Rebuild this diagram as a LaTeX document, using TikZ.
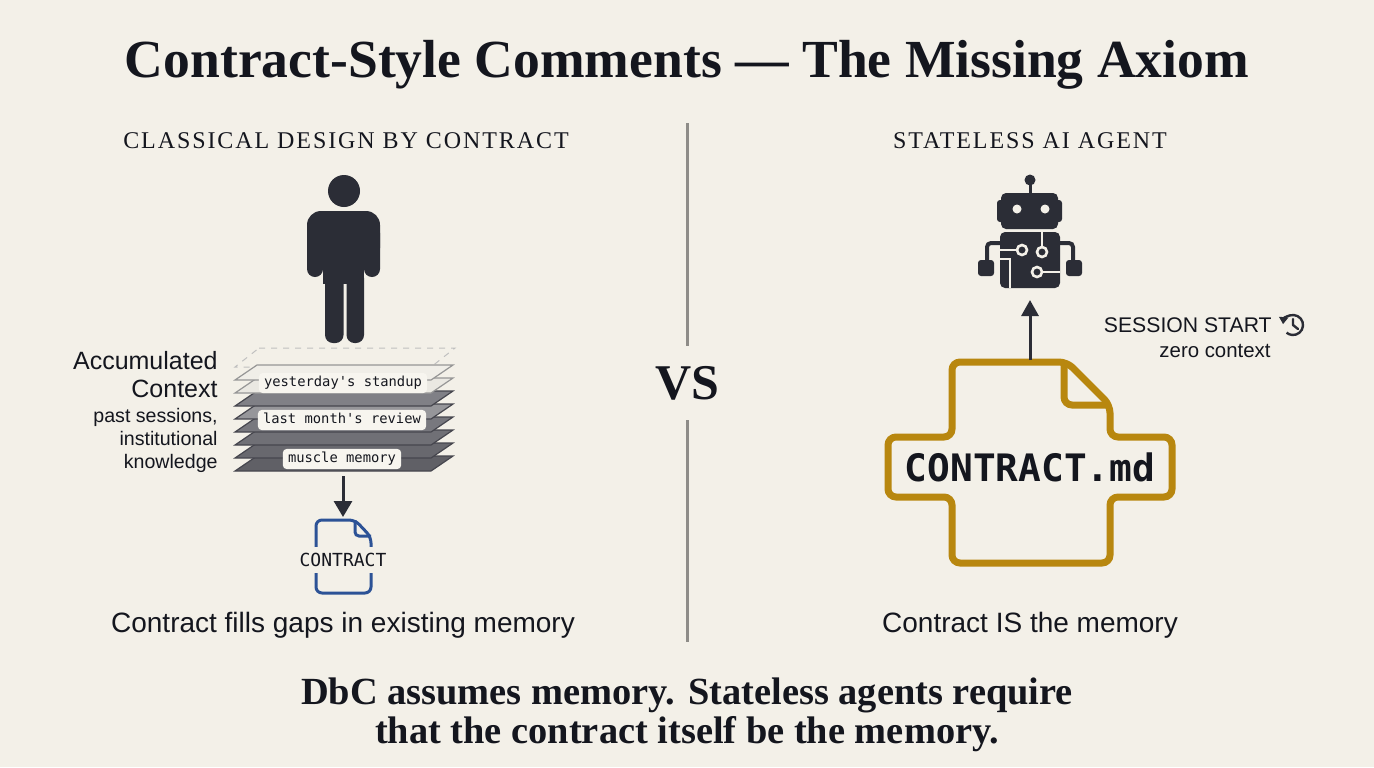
\documentclass[tikz,border=0pt]{standalone}
\usepackage{fontspec}
\setmainfont{Liberation Serif}
\newfontfamily\sansfont{Liberation Sans}
\newfontfamily\monofont{DejaVu Sans Mono}
\newfontfamily\capsfont[LetterSpace=8]{Liberation Serif}
\usetikzlibrary{arrows.meta,calc}
\definecolor{paper}{RGB}{243,240,232}
\definecolor{ink}{RGB}{20,22,30}
\definecolor{icon}{RGB}{43,45,54}
\definecolor{gold}{RGB}{184,135,15}
\definecolor{docblue}{RGB}{44,82,150}
\definecolor{rulegray}{RGB}{142,140,136}
\definecolor{tag}{RGB}{247,245,239}
\definecolor{lightedge}{RGB}{150,150,150}
\definecolor{darkedge}{RGB}{70,70,78}
\definecolor{pa}{RGB}{240,238,232}
\definecolor{pb}{RGB}{234,232,226}
\definecolor{pc}{RGB}{128,128,134}
\definecolor{pd}{RGB}{150,150,154}
\definecolor{pe}{RGB}{120,120,126}
\definecolor{pf}{RGB}{112,112,118}
\definecolor{pg}{RGB}{104,104,110}
\definecolor{ph}{RGB}{96,96,102}
\begin{document}
\begin{tikzpicture}[x=0.5pt,y=-0.5pt,
   txt/.style={text=ink,inner sep=0pt},
   bigtitle/.style={txt,font=\fontsize{26.8}{30}\selectfont\bfseries},
   colhead/.style={txt,font=\capsfont\fontsize{12}{14}\selectfont},
   sans/.style={txt,font=\sansfont\fontsize{#1}{#1}\selectfont},
   plabel/.style={fill=tag,rounded corners=2pt,inner xsep=2.6pt,inner ysep=1.6pt,
      text height=5.4pt,text depth=1.5pt,text=ink,font=\monofont\fontsize{6.9}{8}\selectfont},
   arr/.style={draw=icon,line width=1.5pt,-{Triangle[length=8pt,width=8.5pt]}},
   ]
   \fill[paper] (0,0) rectangle (1374,767);
   \useasboundingbox (0,0) rectangle (1374,767);

   \node[bigtitle] (title) at (687,65) {Contract-Style Comments --- The Missing Axiom};
   \node[colhead] (lhead) at (346,141) {CLASSICAL DESIGN BY CONTRACT};
   \node[colhead] (rhead) at (1030,141) {STATELESS AI AGENT};

   % divider
   \node[txt,font=\fontsize{25}{25}\selectfont\bfseries,inner ysep=10pt] (vs) at (687,383) {VS};
   \coordinate (ruletop) at (687,123);
   \coordinate (rulebot) at (687,642);
   \draw[rulegray,line width=1.5pt] (ruletop) -- (vs.north) (vs.south) -- (rulebot);

   % person
   \fill[icon] (344,191) circle[radius=16];
   \fill[icon,rounded corners=7pt] (307,211) rectangle (380,262);
   \fill[icon,rounded corners=4pt] (307,225) rectangle (323,277) (364,225) rectangle (380,277);
   \fill[icon] (323,220) rectangle (364,284);
   \fill[icon,rounded corners=4pt] (325,270) rectangle (343.5,343) (346.5,270) rectangle (364,343);

   % context stack
   \draw[lightedge!60,dashed,line width=0.5pt] (259,348) -- (455,348) -- (431,367) -- (235,367) -- cycle;
   \foreach \t/\c/\e in {456/ph/darkedge,443/pg/darkedge,430/pf/darkedge,417/pe/darkedge,
                         404/pd/darkedge,391/pc/darkedge,378/pb/lightedge,365/pa/lightedge}
      \filldraw[fill=\c,draw=\e,line width=0.6pt] (257,\t) -- (453,\t) -- (431,\t+15) -- (235,\t+15) -- cycle;
   \node[plabel] (yday) at (343,383) {yesterday\textquotesingle s standup};
   \node[plabel] (review) at (342,420) {last month\textquotesingle s review};
   \node[plabel] (muscle) at (342,459) {muscle memory};

   \node[txt,anchor=east,align=right,font=\sansfont\fontsize{12.5}{14}\selectfont] (acc) at (218,375) {Accumulated\\Context};
   \node[txt,anchor=east,align=right,font=\sansfont\fontsize{9.8}{11.7}\selectfont] (past) at (218,440.5) {past sessions,\\institutional\\knowledge};

   % small contract
   \coordinate (stackbot) at (343,476);
   \coordinate (cdoctop) at (343,517);
   \draw[arr,-{Triangle[length=8pt,width=9pt]}] (stackbot) -- (cdoctop);
   \draw[docblue,line width=1.5pt,rounded corners=3pt] (355,520) -- (316,520) -- (316,593) -- (371,593) -- (371,537) -- cycle;
   \draw[docblue,line width=1.5pt,rounded corners=2pt] (355,520) -- (355,536) -- (371,536);
   \node[txt,fill=paper,inner xsep=1.5pt,inner ysep=3pt,font=\monofont\fontsize{9}{10}\selectfont] (cdoc) at (343,560) {CONTRACT};

   \node[sans=14] (lcap) at (343,625) {Contract fills gaps in existing memory};

   % robot
   \fill[icon] (1030,180) circle[radius=5.5];
   \draw[icon,line width=1.5pt] (1030,184) -- (1030,195);
   \fill[icon,rounded corners=2.5pt] (1001,193) rectangle (1058,229);
   \fill[icon,rounded corners=1.5pt] (997,200) rectangle (1062,222);
   \fill[paper] (1017,209) circle[radius=4.5] (1045,209) circle[radius=4.5];
   \fill[icon,rounded corners=2.5pt] (1000,232) rectangle (1060,288);
   \draw[icon,line width=2pt,rounded corners=2pt] (1001,243) -- (987,243) -- (987,263);
   \draw[icon,line width=2pt,rounded corners=2pt] (1059,243) -- (1073,243) -- (1073,263);
   \fill[icon,rounded corners=1.5pt] (978,260) rectangle (994,276) (1066,260) rectangle (1082,276);
   \draw[paper,line width=1.2pt] (1000,250) -- (1017,250) (1042,232) -- (1042,247)
      (1042,272) -- (1060,272) (1000,259) -- (1010,259) -- (1010,288);
   \draw[paper,line width=1.3pt,fill=icon] (1022,250) circle[radius=5] (1042,252) circle[radius=5] (1037,272) circle[radius=5];

   % session start
   \node[sans=10.6,anchor=east] (sess) at (1272,325) {SESSION START};
   \node[sans=10.2] (zero) at (1215,351) {zero context};
   \coordinate (clk) at (1293,325);
   \draw[icon,line width=1.2pt,{Triangle[length=3.5pt,width=4.5pt]}-] ($(clk)+(185:10)$) arc[start angle=185,end angle=490,radius=10];
   \draw[icon,line width=1.2pt,line cap=round,line join=round] ($(clk)+(0,-6)$) -- (clk) -- ++(5,4);

   % big contract
   \draw[gold,line width=3.5pt,rounded corners=4pt,fill=paper] (952,437) -- (952,362) -- (1067,362) -- (1110,405) -- (1110,437)
      -- (1172,437) -- (1172,497) -- (1110,497) -- (1110,563) -- (952,563) -- (952,497) -- (888,497) -- (888,437) -- cycle;
   \draw[gold,line width=3.5pt,rounded corners=4pt] (1064,363) -- (1064,405) -- (1109,405);
   \node[txt,font=\monofont\bfseries\fontsize{18.9}{20}\selectfont] (cmd) at (1030,467) {CONTRACT.md};
   \coordinate (bigtop) at (1030,360);
   \coordinate (botfoot) at (1030,300);
   \draw[arr] (bigtop) -- (botfoot);

   \node[sans=14] (rcap) at (1030,625) {Contract IS the memory};

   \node[txt,align=center,font=\fontsize{19.2}{19.5}\selectfont\bfseries] (moral) at (687,715)
      {DbC assumes memory. Stateless agents require\\that the contract itself be the memory.};
\end{tikzpicture}
\end{document}
